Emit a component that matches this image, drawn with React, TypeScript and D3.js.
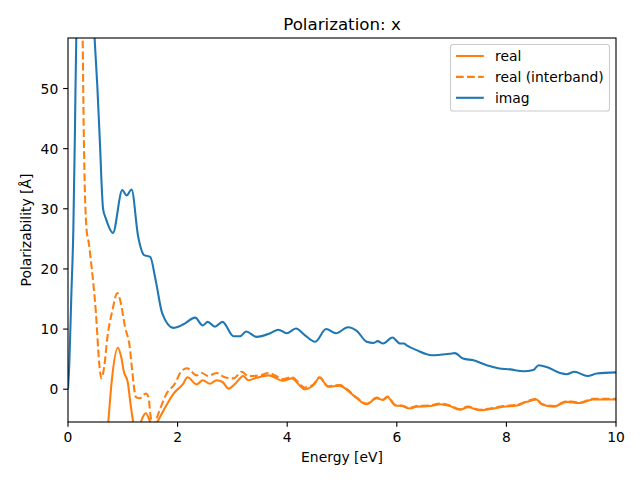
import React from "react";
import * as d3 from "d3";

const imagE = [0, 0.024, 0.06, 0.097, 0.128, 0.151, 0.3, 0.485, 0.535, 0.58, 0.64, 0.69, 0.82, 0.99, 1.07, 1.16, 1.28, 1.39, 1.5, 1.6, 1.72, 1.92, 2.1, 2.32, 2.46, 2.55, 2.68, 2.82, 3.02, 3.14, 3.25, 3.44, 3.69, 3.84, 3.99, 4.16, 4.32, 4.51, 4.71, 4.89, 5.11, 5.27, 5.45, 5.58, 5.65, 5.75, 5.92, 6.06, 6.13, 6.18, 6.36, 6.64, 6.97, 7.06, 7.21, 7.4, 7.64, 7.85, 8.07, 8.31, 8.49, 8.59, 8.76, 8.98, 9.1, 9.24, 9.48, 9.65, 10];
const imagV = [0, 4.3, 15.4, 26.4, 43.8, 58.4, 75, 58.4, 50.4, 41.5, 30, 28.4, 26, 33.1, 32.2, 33.2, 25.4, 22.3, 22.0, 18.1, 12.6, 10.2, 10.75, 11.9, 10.6, 11.2, 10.4, 11.2, 8.8, 8.8, 9.6, 8.7, 9.3, 9.9, 9.3, 10.1, 9.0, 7.9, 10.0, 9.3, 10.3, 9.7, 7.9, 7.7, 8.0, 7.6, 8.6, 7.6, 7.6, 7.3, 6.5, 5.65, 5.9, 6.0, 5.1, 4.8, 4.0, 3.5, 3.3, 3.0, 3.2, 4.0, 3.6, 2.7, 2.5, 2.9, 2.2, 2.6, 2.8];

const interE = [0, 0.2, 0.25, 0.268, 0.286, 0.34, 0.38, 0.41, 0.51, 0.57, 0.61, 0.66, 0.72, 0.81, 0.9, 0.96, 1.04, 1.13, 1.17, 1.24, 1.31, 1.42, 1.47, 1.5, 1.56, 1.65, 1.8, 1.95, 2.06, 2.17, 2.35, 2.44, 2.56, 2.71, 2.86, 3.02, 3.17, 3.29, 3.5, 3.66, 3.93, 4.08, 4.32, 4.48, 4.59, 4.75, 4.96, 5.09, 5.27, 5.45, 5.63, 5.75, 5.83, 5.97, 6.09, 6.24, 6.36, 6.61, 6.79, 6.97, 7.15, 7.3, 7.52, 7.7, 7.94, 8.19, 8.37, 8.55, 8.64, 8.86, 9.1, 9.34, 9.58, 10];
const interV = [100, 90, 72, 58.4, 43.8, 26.4, 24.3, 22.0, 12.6, 4.3, 1.8, 3.7, 8.7, 13.1, 16.0, 14.5, 10.4, 6.8, 3.2, -1.3, -1.5, -0.7, -1.3, -4.0, -6.0, -4.0, -0.7, 0.9, 2.9, 3.5, 2.3, 2.7, 2.2, 2.7, 2.0, 1.8, 2.9, 2.2, 2.3, 2.7, 1.7, 2.0, 0.3, 0.8, 2.0, 0.5, 0.7, 0.0, -1.4, -2.4, -1.4, -1.7, -1.2, -2.6, -2.7, -3.1, -2.8, -2.7, -2.4, -2.7, -3.3, -2.9, -3.4, -3.2, -2.8, -2.6, -2.0, -1.6, -2.4, -2.8, -2.0, -2.2, -1.6, -1.6];

const realE = [0.5, 0.6, 0.68, 0.735, 0.8, 0.91, 0.97, 1.02, 1.09, 1.14, 1.19, 1.27, 1.34, 1.42, 1.5, 1.56, 1.62, 1.74, 1.92, 2.1, 2.18, 2.35, 2.46, 2.59, 2.71, 2.82, 2.93, 3.05, 3.2, 3.29, 3.44, 3.66, 3.93, 4.08, 4.32, 4.48, 4.59, 4.75, 4.96, 5.09, 5.27, 5.45, 5.63, 5.75, 5.83, 5.97, 6.09, 6.24, 6.36, 6.61, 6.79, 6.97, 7.15, 7.3, 7.52, 7.7, 7.94, 8.19, 8.37, 8.55, 8.64, 8.86, 9.1, 9.34, 9.58, 10];
const realV = [-60, -30, -12, -5.5, 1.5, 6.9, 5.4, 2.9, 1.2, -2.4, -5.5, -7.5, -5.2, -4.0, -5.4, -6.5, -5.6, -3.6, -0.8, 0.9, 2.0, 0.8, 1.5, 0.9, 1.5, 1.2, 0.1, 0.9, 2.2, 1.5, 1.9, 2.3, 1.4, 1.8, 0.0, 0.7, 1.9, 0.4, 0.6, -0.1, -1.5, -2.5, -1.5, -1.8, -1.3, -2.7, -2.8, -3.2, -2.9, -2.8, -2.5, -2.8, -3.4, -3.0, -3.5, -3.3, -2.9, -2.7, -2.1, -1.7, -2.5, -2.9, -2.1, -2.3, -1.7, -1.7];

const xTicks = [0, 2, 4, 6, 8, 10];
const yTicks = [0, 10, 20, 30, 40, 50];

const seriesNames = ["real", "real (interband)", "imag"];
const seriesColors = ["#ff7f0e", "#ff7f0e", "#1f77b4"];
const seriesDash = [null, "5.55,2.4", null];

const W = 640, H = 480;
const L = 68, R = 616, T = 38, B = 422;
const FS = 13.89;
const FONT = "DejaVu Sans, sans-serif";

export default function App() {
  const x = d3.scaleLinear().domain([0, 10]).range([L, R]);
  const y = d3.scaleLinear().domain([-5.45, 58.4]).range([B, T]);
  const line = d3
    .line<[number, number]>()
    .x((d) => x(d[0]))
    .y((d) => y(d[1]))
    .curve(d3.curveMonotoneX);

  const zip = (a: number[], b: number[]) => a.map((e, i) => [e, b[i]] as [number, number]);
  const paths = [zip(realE, realV), zip(interE, interV), zip(imagE, imagV)];
  const drawOrder = [0, 1, 2];
  const tick = 4.86;
  const dash = (i: number) =>
    seriesDash[i] ? seriesDash[i]!.split(",").map((v) => +v * 1.39).join(",") : undefined;

  return (
    <svg width={W} height={H} style={{ position: "absolute", left: 0, top: 0, background: "#fff" }} fontFamily={FONT}>
      <rect x={0} y={0} width={W} height={H} fill="#fff" />
      <defs>
        <clipPath id="plotclip">
          <rect x={L} y={T} width={R - L} height={B - T} />
        </clipPath>
      </defs>
      <g clipPath="url(#plotclip)">
        {drawOrder.map((i) => (
          <path
            key={i}
            d={line(paths[i]) || ""}
            fill="none"
            stroke={seriesColors[i]}
            strokeWidth={2.08}
            strokeDasharray={dash(i)}
            strokeLinejoin="round"
          />
        ))}
      </g>
      <rect x={L} y={T} width={R - L} height={B - T} fill="none" stroke="#000" strokeWidth={1.11} />
      {xTicks.map((t) => (
        <g key={"x" + t}>
          <line x1={x(t)} x2={x(t)} y1={B} y2={B + tick} stroke="#000" strokeWidth={1.11} />
          <text x={x(t)} y={B + tick + 4.86 + 10.2} textAnchor="middle" fontSize={FS} fill="#000">
            {t}
          </text>
        </g>
      ))}
      {yTicks.map((t) => (
        <g key={"y" + t}>
          <line x1={L - tick} x2={L} y1={y(t)} y2={y(t)} stroke="#000" strokeWidth={1.11} />
          <text x={L - tick - 4.86} y={y(t) + 5.1} textAnchor="end" fontSize={FS} fill="#000">
            {t}
          </text>
        </g>
      ))}
      <text x={(L + R) / 2} y={29.7} textAnchor="middle" fontSize={16.67} fill="#000">
        Polarization: x
      </text>
      <text x={(L + R) / 2} y={461.5} textAnchor="middle" fontSize={FS} fill="#000">
        Energy [eV]
      </text>
      <text transform={`translate(30.5,${(T + B) / 2}) rotate(-90)`} textAnchor="middle" fontSize={FS} fill="#000">
        Polarizability [Å]
      </text>
      <g>
        <rect x={450.5} y={44.5} width={159} height={66.5} rx={2.8} fill="#fff" fillOpacity={0.8} stroke="#cccccc" strokeWidth={1.11} />
        {seriesNames.map((n, i) => {
          const cy = 56 + i * 20.9;
          return (
            <g key={n}>
              <line x1={456} x2={483.8} y1={cy} y2={cy} stroke={seriesColors[i]} strokeWidth={2.08} strokeDasharray={dash(i)} />
              <text x={495} y={cy + 4.9} fontSize={FS} fill="#000">
                {n}
              </text>
            </g>
          );
        })}
      </g>
    </svg>
  );
}
